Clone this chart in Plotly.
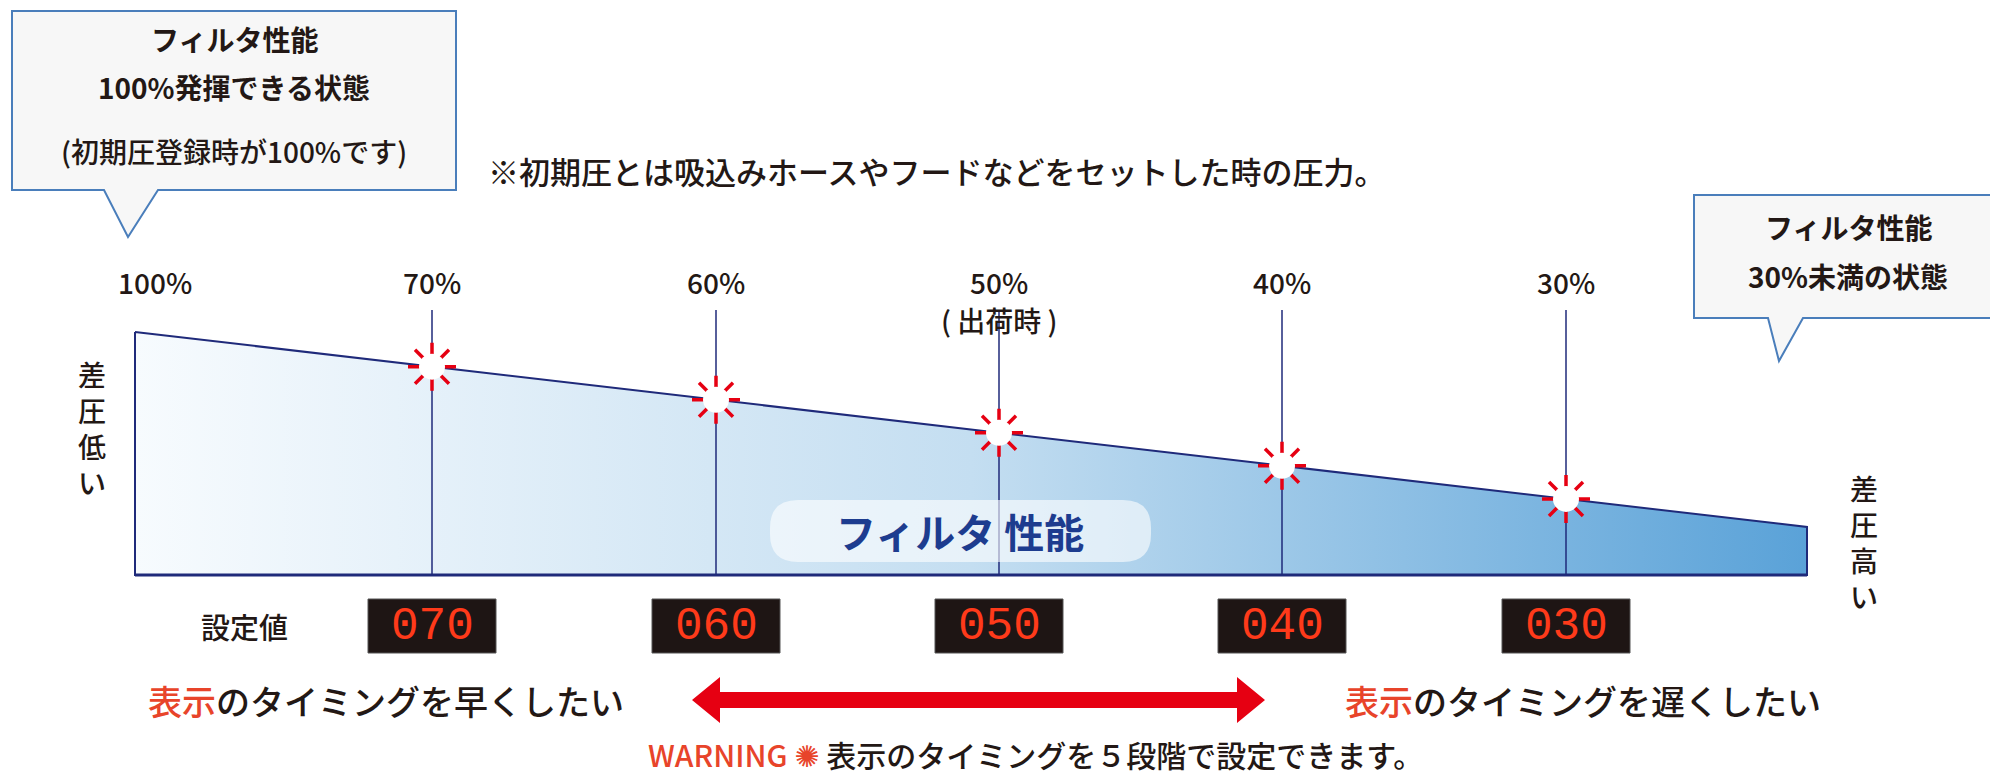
import plotly.graph_objects as go

# ---- data ----
stage_pct = ["70%", "60%", "50%", "40%", "30%"]
stage_setting = ["070", "060", "050", "040", "030"]
stage_x = [424, 708, 991, 1274, 1558]
line_x = [127, 1799]
line_top = [324, 519]
base_y = 567

def top_at(x):
    return line_top[0] + (line_top[1] - line_top[0]) * (x - line_x[0]) / (line_x[1] - line_x[0])

FONT = "Noto Sans CJK JP"
NAVY = "#1f2a7a"
RED = "#e60012"
TXT = "#231815"
fig = go.Figure()

def txt(x, y, t, size=28, weight=500, color=TXT, family=FONT, **kw):
    fig.add_annotation(x=x, y=y, text=t, showarrow=False,
                       font=dict(family=family, size=size, color=color, weight=weight), **kw)

fig.add_trace(go.Scatter(
    x=[line_x[0], line_x[1], line_x[1], line_x[0], line_x[0]],
    y=[line_top[0], line_top[1], base_y, base_y, line_top[0]],
    mode="lines", line=dict(color=NAVY, width=2), fill="toself",
    fillgradient=dict(type="horizontal",
                      colorscale=[[0, "#f7fbfe"], [0.5, "#c4def1"], [1, "#5aa2d8"]]),
    hoverinfo="skip", showlegend=False))
fig.add_trace(go.Scatter(x=line_x, y=[base_y, base_y], mode="lines",
                         line=dict(color=NAVY, width=3), hoverinfo="skip", showlegend=False))

for x in stage_x:
    fig.add_trace(go.Scatter(x=[x, x], y=[302, base_y], mode="lines",
                             line=dict(color=NAVY, width=1.5), hoverinfo="skip", showlegend=False))

x0, x1, y0, y1, r = 762, 1143, 492, 554, 28
fig.add_shape(type="path",
              path=f"M {x0+r} {y0} L {x1-r} {y0} Q {x1} {y0} {x1} {y0+r} L {x1} {y1-r} Q {x1} {y1} {x1-r} {y1} "
                   f"L {x0+r} {y1} Q {x0} {y1} {x0} {y1-r} L {x0} {y0+r} Q {x0} {y0} {x0+r} {y0} Z",
              line=dict(width=0), fillcolor="rgba(255,255,255,0.6)", layer="above")
txt(952, 523, "<b>フィルタ 性能</b>", size=40, color="#1d3c8f")

mx = stage_x
my = [top_at(x) for x in stage_x]
fig.add_trace(go.Scatter(x=mx, y=my, mode="markers",
                         marker=dict(symbol="asterisk-open", size=40, color=RED, line=dict(width=3.5, color=RED)),
                         hoverinfo="skip", showlegend=False))
fig.add_trace(go.Scatter(x=mx, y=my, mode="markers",
                         marker=dict(symbol="circle", size=26, color="white", line=dict(width=0)),
                         hoverinfo="skip", showlegend=False))

txt(147, 274, "100%")
for x, p in zip(stage_x, stage_pct):
    txt(x, 274, p)
txt(991, 312, "( 出荷時 )")

for i, ch in enumerate("差圧低い"):
    txt(84, 366 + i * 36, ch, size=28)
for i, ch in enumerate("差圧高い"):
    txt(1856, 480 + i * 36, ch, size=28)

txt(236, 618, "設定値", size=29)
for x, s in zip(stage_x, stage_setting):
    fig.add_shape(type="rect", x0=x - 64, x1=x + 64, y0=591, y1=645,
                  fillcolor="#1e1514", line=dict(color="#555", width=1))
    txt(x, 619, s, size=46, weight=400, color="#ff3a1a", family="Liberation Mono")

txt(378, 692, "<span style='color:#e8442a'>表示</span>のタイミングを早くしたい", size=34)
txt(1575, 692, "<span style='color:#e8442a'>表示</span>のタイミングを遅くしたい", size=34)
fig.add_shape(type="path",
              path="M 684 692 L 712 669 L 712 684 L 1229 684 L 1229 669 L 1257 692 L 1229 715 L 1229 700 L 712 700 L 712 715 Z",
              fillcolor=RED, line=dict(width=0))

txt(1027, 746, "<span style='color:#e8442a'>WARNING</span> "
               "<span style='color:#e8442a;font-family:DejaVu Sans'>✺</span> 表示のタイミングを５段階で設定できます。",
    size=30)

fig.add_shape(type="path",
              path="M 4 3 L 448 3 L 448 182 L 150 182 L 120 229 L 96 182 L 4 182 Z",
              fillcolor="#f7f7f7", line=dict(color="#4a7ebb", width=2))
txt(226, 31, "<b>フィルタ性能</b>", size=28)
txt(226, 79, "<b>100%発揮できる状態</b>", size=28)
txt(226, 143, "(初期圧登録時が100%です)", size=28)

fig.add_shape(type="path",
              path="M 1686 187 L 1995 187 L 1995 310 L 1795 310 L 1771 353 L 1760 310 L 1686 310 Z",
              fillcolor="#f7f7f7", line=dict(color="#4a7ebb", width=2))
txt(1840, 219, "<b>フィルタ性能</b>", size=28)
txt(1840, 268, "<b>30%未満の状態</b>", size=28)

txt(478, 162, "※初期圧とは吸込みホースやフードなどをセットした時の圧力。", size=31, xanchor="left")

fig.update_layout(width=1998, height=776, margin=dict(l=0, r=0, t=0, b=0),
                  plot_bgcolor="white", paper_bgcolor="white",
                  xaxis=dict(range=[0, 1998], visible=False, fixedrange=True),
                  yaxis=dict(range=[776, 0], visible=False, fixedrange=True))
fig.write_html("out.html", config={"displayModeBar": False})
